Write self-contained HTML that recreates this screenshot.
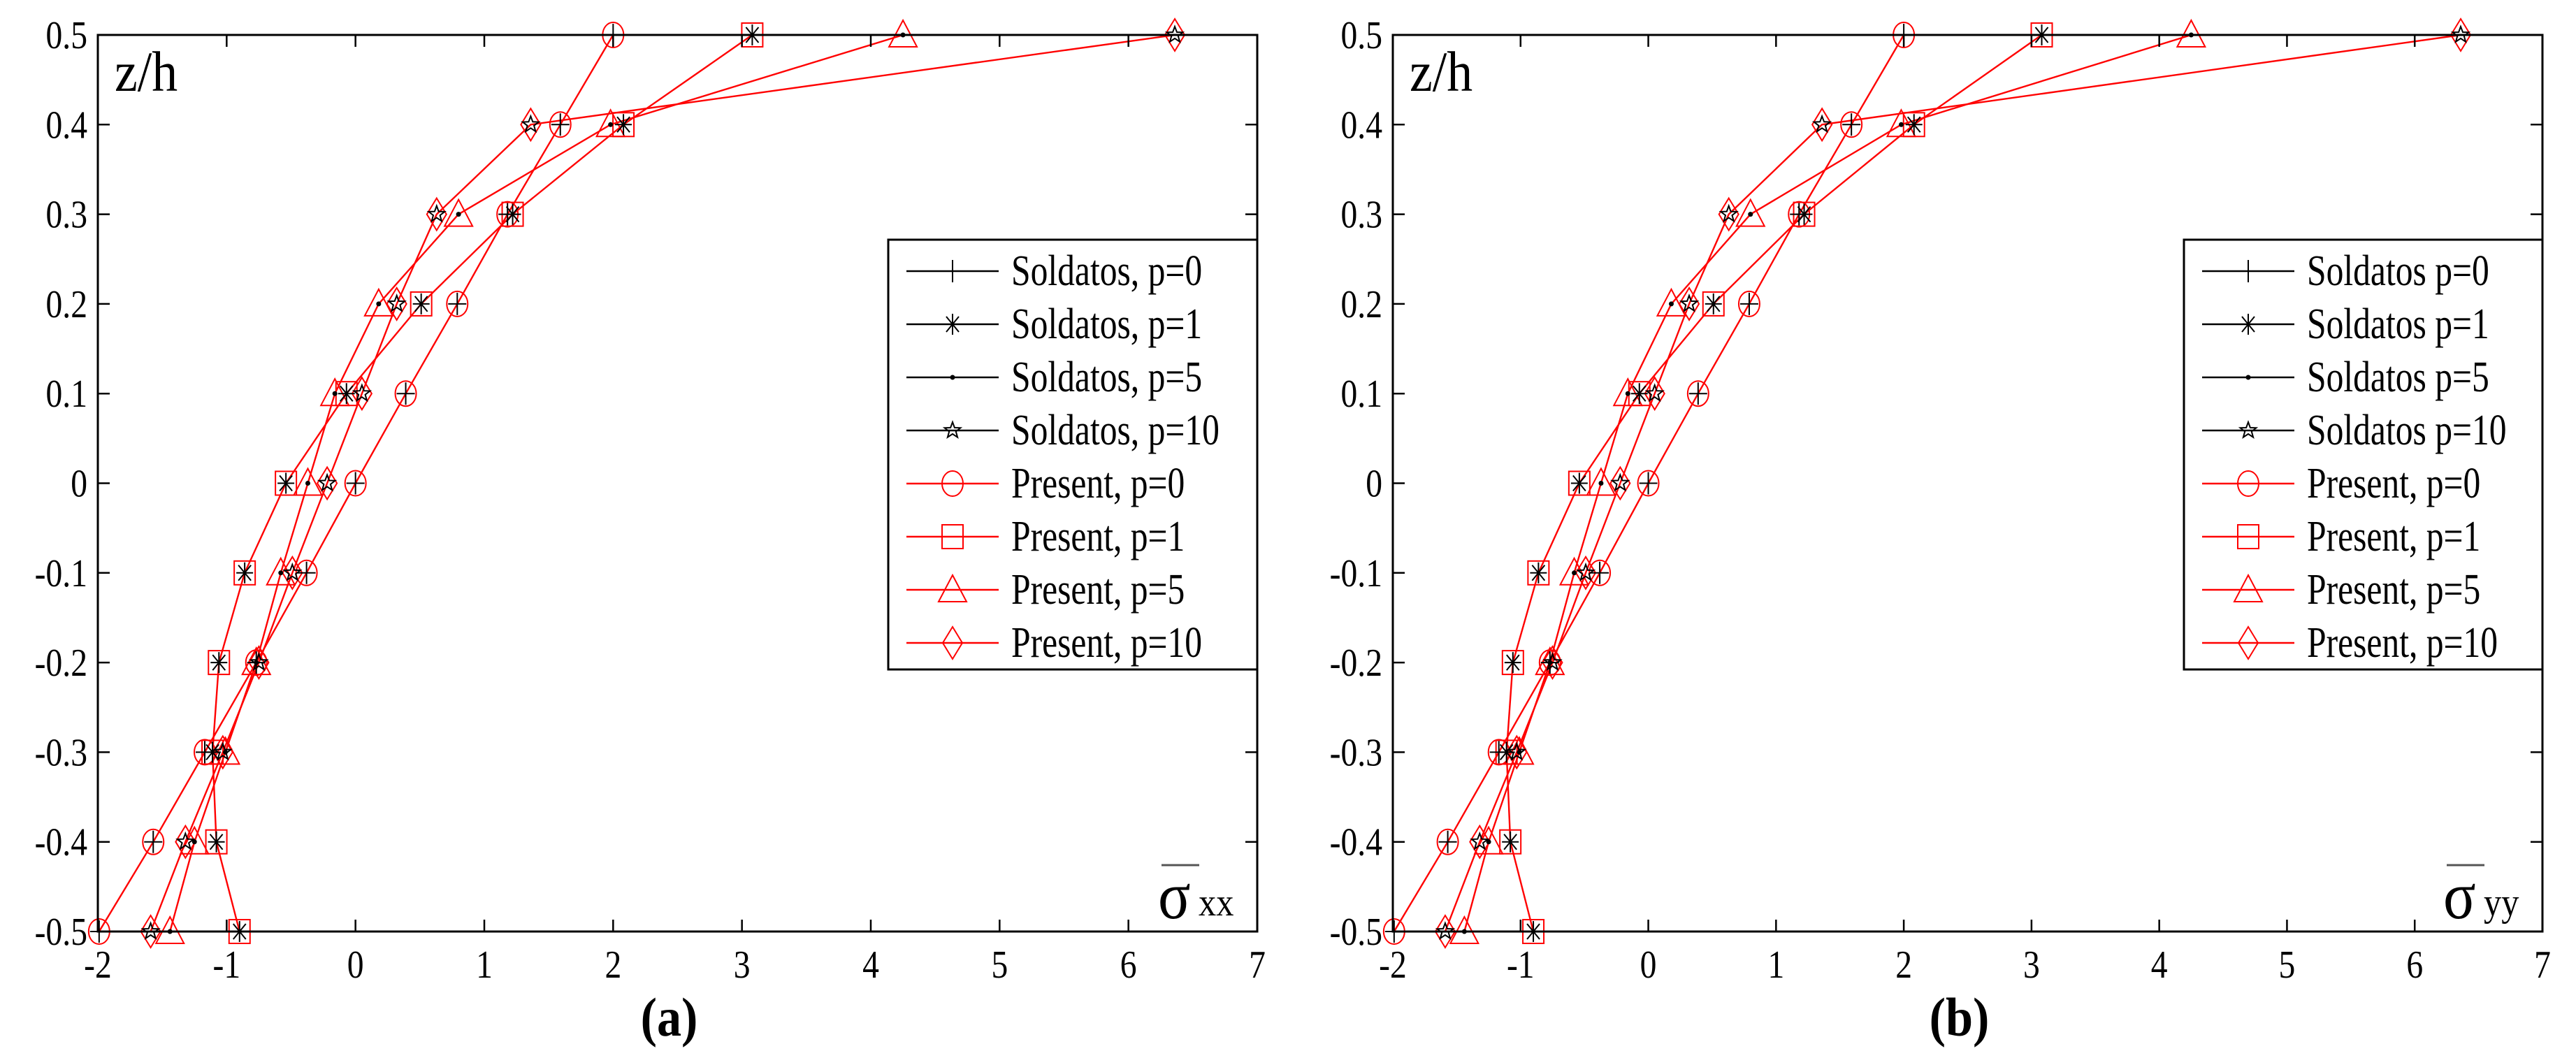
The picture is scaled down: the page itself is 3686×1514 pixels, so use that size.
<!DOCTYPE html>
<html><head><meta charset="utf-8"><style>
html,body{margin:0;padding:0;background:#fff;}
svg{display:block;}
svg text{font-family:"Liberation Serif","Times New Roman","DejaVu Serif",serif;}
</style></head><body>
<svg id="chart" width="3686" height="1514" viewBox="0 0 3686 1514" xmlns="http://www.w3.org/2000/svg"></svg>
<script>
const zLevels = [0.5,0.4,0.3,0.2,0.1,0,-0.1,-0.2,-0.3,-0.4,-0.5];
const xTicks = [-2,-1,0,1,2,3,4,5,6,7];
const yTickLabels = ["0.5","0.4","0.3","0.2","0.1","0","-0.1","-0.2","-0.3","-0.4","-0.5"];
// panel (a) sigma_xx
const presentA_p0  = [2.0,1.59,1.18,0.79,0.39,0.0,-0.38,-0.77,-1.17,-1.57,-1.99];
const presentA_p1  = [3.08,2.08,1.22,0.51,-0.07,-0.54,-0.86,-1.06,-1.11,-1.08,-0.9];
const presentA_p5  = [4.25,1.98,0.8,0.18,-0.16,-0.37,-0.58,-0.77,-1.01,-1.25,-1.44];
const presentA_p10 = [6.36,1.36,0.63,0.32,0.05,-0.22,-0.49,-0.75,-1.03,-1.32,-1.59];
const soldatosA_p0  = [2.0,1.59,1.18,0.79,0.39,0.0,-0.38,-0.77,-1.17,-1.57,-1.99];
const soldatosA_p1  = [3.08,2.08,1.22,0.51,-0.07,-0.54,-0.86,-1.06,-1.11,-1.08,-0.9];
const soldatosA_p5  = [4.25,1.98,0.8,0.18,-0.16,-0.37,-0.58,-0.77,-1.01,-1.25,-1.44];
const soldatosA_p10 = [6.36,1.36,0.63,0.32,0.05,-0.22,-0.49,-0.75,-1.03,-1.32,-1.59];
// panel (b) sigma_yy
const presentB_p0  = [2.0,1.59,1.18,0.79,0.39,0.0,-0.38,-0.77,-1.17,-1.57,-1.99];
const presentB_p1  = [3.08,2.08,1.22,0.51,-0.07,-0.54,-0.86,-1.06,-1.11,-1.08,-0.9];
const presentB_p5  = [4.25,1.98,0.8,0.18,-0.16,-0.37,-0.58,-0.77,-1.01,-1.25,-1.44];
const presentB_p10 = [6.36,1.36,0.63,0.32,0.05,-0.22,-0.49,-0.75,-1.03,-1.32,-1.59];
const soldatosB_p0  = [2.0,1.59,1.18,0.79,0.39,0.0,-0.38,-0.77,-1.17,-1.57,-1.99];
const soldatosB_p1  = [3.08,2.08,1.22,0.51,-0.07,-0.54,-0.86,-1.06,-1.11,-1.08,-0.9];
const soldatosB_p5  = [4.25,1.98,0.8,0.18,-0.16,-0.37,-0.58,-0.77,-1.01,-1.25,-1.44];
const soldatosB_p10 = [6.36,1.36,0.63,0.32,0.05,-0.22,-0.49,-0.75,-1.03,-1.32,-1.59];

const NS="http://www.w3.org/2000/svg";
const svg=document.getElementById('chart');
const FF="'Liberation Serif', 'Times New Roman', 'DejaVu Serif', serif";
function mk(tag,attrs,parent){const e=document.createElementNS(NS,tag);for(const k in attrs)e.setAttribute(k,attrs[k]);(parent||svg).appendChild(e);return e;}
function txt(parent,x,y,s,size,anchor,sx,weight){const t=mk('text',{transform:`translate(${x},${y}) scale(${sx||0.85},1)`,'font-size':size,'font-family':FF,'text-anchor':anchor||'start','fill':'#000','font-weight':weight||'normal'},parent);t.textContent=s;return t;}

function marker(g,type,cx,cy,color){
  const s={stroke:color,'stroke-width':2,fill:'none'};
  if(type==='circle'){mk('ellipse',Object.assign({cx:cx,cy:cy,rx:15,ry:18},s),g);}
  else if(type==='square'){mk('rect',Object.assign({x:cx-15,y:cy-17,width:30,height:34},s),g);}
  else if(type==='triangle'){mk('polygon',Object.assign({points:`${cx},${cy-21} ${cx+20},${cy+17} ${cx-20},${cy+17}`},s),g);}
  else if(type==='diamond'){mk('polygon',Object.assign({points:`${cx},${cy-23} ${cx+14},${cy} ${cx},${cy+23} ${cx-14},${cy}`},s),g);}
  else if(type==='plus'){mk('path',Object.assign({d:`M${cx-13},${cy}H${cx+13}M${cx},${cy-16}V${cy+16}`},s),g);}
  else if(type==='asterisk'){mk('path',Object.assign({d:`M${cx-12},${cy}H${cx+12}M${cx},${cy-15}V${cy+15}M${cx-9},${cy-11}L${cx+9},${cy+11}M${cx+9},${cy-11}L${cx-9},${cy+11}`},s),g);}
  else if(type==='dot'){mk('circle',{cx:cx,cy:cy,r:3.5,fill:color},g);}
  else if(type==='star'){let p=[];for(let i=0;i<10;i++){const r=i%2?5:12;const a=-Math.PI/2+i*Math.PI/5;p.push((cx+r*Math.cos(a)).toFixed(1)+','+(cy+r*Math.sin(a)).toFixed(1));}mk('polygon',Object.assign({points:p.join(' ')},s),g);}
}

function panel(cfg){
  const g=mk('g',{});
  
  
  const L=cfg.left,R=cfg.right,T=50,B=1333;
  const xs=v=>L+(v-(-2))*(R-L)/9;
  const ys=v=>T+(0.5-v)*(B-T);
  const blacks=cfg.series.filter(s=>s.color==='#000'), reds=cfg.series.filter(s=>s.color!=='#000');
  const line=se=>{
    const lg=mk('g',{},g);
    
    
    const pts=se.vals.map((v,i)=>xs(v).toFixed(1)+','+ys(zLevels[i]).toFixed(1)).join(' ');
    mk('polyline',{points:pts,fill:'none',stroke:se.color,'stroke-width':se.color==='#000'?1.2:2.4},lg);
  };
  const marks=se=>{
    const mg=mk('g',{},g);
    
    
    se.vals.forEach((v,i)=>marker(mg,se.marker,xs(v),ys(zLevels[i]),se.color));
  };
  blacks.forEach(line); reds.forEach(line); reds.forEach(marks); blacks.forEach(marks);
  const ax=mk('rect',{x:L,y:T,width:R-L,height:B-T,fill:'none',stroke:'#000','stroke-width':3},g);
  
  
  xTicks.forEach(t=>{
    const x=xs(t);
    mk('path',{d:`M${x},${B}V${B-17}M${x},${T}V${T+17}`,stroke:'#000','stroke-width':2.5},g);
    const tl=txt(g,x,1399,String(t),56,'middle');
    
    
  });
  zLevels.forEach((z,i)=>{
    const y=ys(z);
    mk('path',{d:`M${L},${y}H${L+17}M${R},${y}H${R-17}`,stroke:'#000','stroke-width':2.5},g);
    const tl=txt(g,L-15,y+19,yTickLabels[i],56,'end');
    
    
  });
  const yt=txt(g,L+24,130,'z/h',82,'start',0.9);
  
  
  const sx=R-142;
  const sl=mk('g',{},g);
  
  
  mk('line',{x1:sx+5,y1:1238,x2:sx+59,y2:1238,stroke:'#555','stroke-width':3},sl);
  txt(sl,sx,1314,'σ',96,'start',0.9);
  txt(sl,sx+58,1310,cfg.sub,56,'start',0.9);
  const pl=txt(g,(L+R)/2-12,1482,cfg.label,78,'middle',0.9,'bold');
  
  
  const lx=cfg.legLeft, lt=343, lb=958;
  const lg=mk('g',{},g);
  
  
  mk('rect',{x:lx,y:lt,width:R-lx,height:lb-lt,fill:'#fff',stroke:'#000','stroke-width':3},lg);
  cfg.series.slice().sort((a,b)=>a.order-b.order).forEach((se,i)=>{
    const y=388+i*76;
    const e=mk('g',{},lg);
    
    
    mk('line',{x1:lx+26,y1:y,x2:lx+158,y2:y,stroke:se.color,'stroke-width':2.5},e);
    marker(e,se.marker,lx+92,y,se.color);
    txt(e,lx+176,y+20,se.label,62,'start',0.8);
  });
}

function seriesSet(sol,pre,comma){
  const sep=comma?', ':' ';
  return [
    {name:'soldatos-p0',vals:sol[0],marker:'plus',color:'#000',label:'Soldatos'+sep+'p=0',order:0},
    {name:'soldatos-p1',vals:sol[1],marker:'asterisk',color:'#000',label:'Soldatos'+sep+'p=1',order:1},
    {name:'soldatos-p5',vals:sol[2],marker:'dot',color:'#000',label:'Soldatos'+sep+'p=5',order:2},
    {name:'soldatos-p10',vals:sol[3],marker:'star',color:'#000',label:'Soldatos'+sep+'p=10',order:3},
    {name:'present-p0',vals:pre[0],marker:'circle',color:'#f00',label:'Present, p=0',order:4},
    {name:'present-p1',vals:pre[1],marker:'square',color:'#f00',label:'Present, p=1',order:5},
    {name:'present-p5',vals:pre[2],marker:'triangle',color:'#f00',label:'Present, p=5',order:6},
    {name:'present-p10',vals:pre[3],marker:'diamond',color:'#f00',label:'Present, p=10',order:7}
  ];
}

panel({name:'panel-a-sigma-xx',left:140,right:1799,legLeft:1271,sub:'xx',label:'(a)',
  series:seriesSet([soldatosA_p0,soldatosA_p1,soldatosA_p5,soldatosA_p10],[presentA_p0,presentA_p1,presentA_p5,presentA_p10],true)});
panel({name:'panel-b-sigma-yy',left:1993,right:3638,legLeft:3125,sub:'yy',label:'(b)',
  series:seriesSet([soldatosB_p0,soldatosB_p1,soldatosB_p5,soldatosB_p10],[presentB_p0,presentB_p1,presentB_p5,presentB_p10],false)});
</script>
</body></html>
